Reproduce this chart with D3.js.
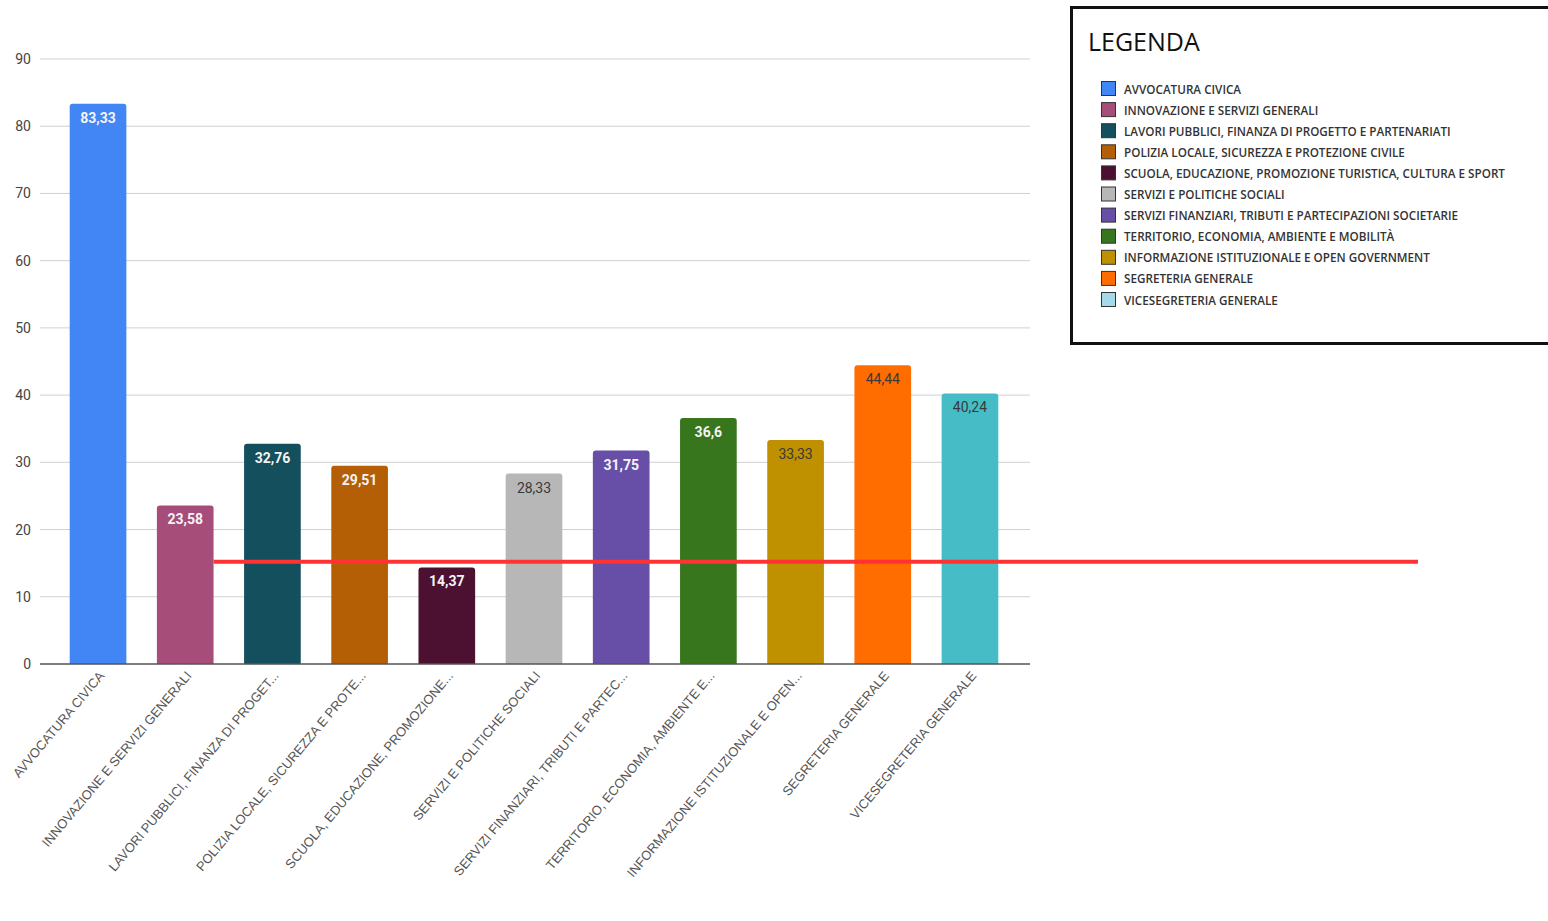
<!DOCTYPE html>
<html>
<head>
<meta charset="utf-8">
<script src="https://cdn.jsdelivr.net/npm/d3@7"></script>
<style>
  body { margin: 0; background: #fff; }
  svg { display: block; }
</style>
</head>
<body>
<div id="chart"></div>
<script>
// data
var categories = [
    "AVVOCATURA CIVICA",
    "INNOVAZIONE E SERVIZI GENERALI",
    "LAVORI PUBBLICI, FINANZA DI PROGETTO E PARTENARIATI",
    "POLIZIA LOCALE, SICUREZZA E PROTEZIONE CIVILE",
    "SCUOLA, EDUCAZIONE, PROMOZIONE TURISTICA, CULTURA E SPORT",
    "SERVIZI E POLITICHE SOCIALI",
    "SERVIZI FINANZIARI, TRIBUTI E PARTECIPAZIONI SOCIETARIE",
    "TERRITORIO, ECONOMIA, AMBIENTE E MOBILITÀ",
    "INFORMAZIONE ISTITUZIONALE E OPEN GOVERNMENT",
    "SEGRETERIA GENERALE",
    "VICESEGRETERIA GENERALE"
];
var axisLabels = [
    "AVVOCATURA CIVICA",
    "INNOVAZIONE E SERVIZI GENERALI",
    "LAVORI PUBBLICI, FINANZA DI PROGET...",
    "POLIZIA LOCALE, SICUREZZA E PROTE...",
    "SCUOLA, EDUCAZIONE, PROMOZIONE...",
    "SERVIZI E POLITICHE SOCIALI",
    "SERVIZI FINANZIARI, TRIBUTI E PARTEC...",
    "TERRITORIO, ECONOMIA, AMBIENTE E...",
    "INFORMAZIONE ISTITUZIONALE E OPEN...",
    "SEGRETERIA GENERALE",
    "VICESEGRETERIA GENERALE"
];
var values = [83.33, 23.58, 32.76, 29.51, 14.37, 28.33, 31.75, 36.6, 33.33, 44.44, 40.24];
var barColors = ["#4285f4", "#a64d79", "#134f5c", "#b45f06", "#4c1130", "#b7b7b7",
                 "#674ea7", "#38761d", "#bf9000", "#ff6d01", "#46bdc6"];
var legendColors = ["#4285f4", "#a64d79", "#134f5c", "#b45f06", "#4c1130", "#b7b7b7",
                    "#674ea7", "#38761d", "#bf9000", "#ff6d01", "#a4d9ec"];
var darkLabel = [false, false, false, false, false, true, false, false, true, true, true];
var yTicks = [0, 10, 20, 30, 40, 50, 60, 70, 80, 90];
var threshold = 15.2;

var width = 1548, height = 921;

var svg = d3.select("#chart").append("svg")
    .attr("width", width)
    .attr("height", height);

var x = d3.scaleBand()
    .domain(categories)
    .range([54, 1014])
    .paddingInner(0.35)
    .paddingOuter(0.18);

var y = d3.scaleLinear()
    .domain([0, 90])
    .range([664, 59]);

// gridlines
svg.append("g")
    .selectAll("line")
    .data(yTicks.filter(function(d) { return d > 0; }))
    .enter()
    .append("line")
    .attr("x1", 40).attr("x2", 1030)
    .attr("y1", function(d) { return y(d); })
    .attr("y2", function(d) { return y(d); })
    .style("stroke", "#d0d0d0")
    .style("stroke-width", 1);

// y labels
svg.append("g")
    .selectAll("text")
    .data(yTicks)
    .enter()
    .append("text")
    .attr("x", 31)
    .attr("y", function(d) { return y(d) + 5; })
    .attr("text-anchor", "end")
    .style("font-family", "Roboto, Arial, sans-serif")
    .style("font-size", "14px")
    .style("fill", "#444")
    .text(function(d) { return d; });

// bars with rounded tops
function barPath(i) {
    var x0 = x(categories[i]), w = x.bandwidth();
    var y0 = y(values[i]), y1 = y(0), r = 3;
    return "M" + x0 + "," + y1 +
        "V" + (y0 + r) +
        "Q" + x0 + "," + y0 + " " + (x0 + r) + "," + y0 +
        "H" + (x0 + w - r) +
        "Q" + (x0 + w) + "," + y0 + " " + (x0 + w) + "," + (y0 + r) +
        "V" + y1 + "Z";
}

svg.append("g")
    .selectAll("path")
    .data(values)
    .enter()
    .append("path")
    .attr("d", function(d, i) { return barPath(i); })
    .style("fill", function(d, i) { return barColors[i]; });

// value labels
svg.append("g")
    .selectAll("text")
    .data(values)
    .enter()
    .append("text")
    .attr("x", function(d, i) { return x(categories[i]) + x.bandwidth() / 2; })
    .attr("y", function(d) { return y(d) + 19; })
    .attr("text-anchor", "middle")
    .style("font-family", "Roboto, Arial, sans-serif")
    .style("font-size", "14px")
    .style("font-weight", function(d, i) { return darkLabel[i] ? "normal" : "bold"; })
    .style("fill", function(d, i) { return darkLabel[i] ? "#3a3a3a" : "#f4f4f4"; })
    .text(function(d) { return String(d).replace(".", ","); });

// baseline
svg.append("line")
    .attr("x1", 40).attr("x2", 1030)
    .attr("y1", y(0)).attr("y2", y(0))
    .style("stroke", "#555")
    .style("stroke-width", 1.5);

// x labels
svg.append("g")
    .selectAll("text")
    .data(axisLabels)
    .enter()
    .append("text")
    .attr("transform", function(d, i) {
        var cx = x(categories[i]) + x.bandwidth() / 2 + 7;
        return "translate(" + cx + ",676) rotate(-50)";
    })
    .attr("text-anchor", "end")
    .style("font-family", "Arial, 'Liberation Sans', sans-serif")
    .style("font-size", "13px")
    .style("fill", "#555")
    .text(function(d) { return d; });

// red threshold line
svg.append("line")
    .attr("x1", x(categories[1]) + x.bandwidth())
    .attr("x2", 1418)
    .attr("y1", y(threshold))
    .attr("y2", y(threshold))
    .style("stroke", "#ff3333")
    .style("stroke-width", 4);

// legend
var legend = svg.append("g");

legend.append("rect")
    .attr("x", 1071.5).attr("y", 7.5)
    .attr("width", 490).attr("height", 336)
    .style("fill", "#fff")
    .style("stroke", "#111")
    .style("stroke-width", 3);

legend.append("text")
    .attr("x", 1088).attr("y", 51)
    .style("font-family", "'Open Sans', sans-serif")
    .style("font-size", "25px")
    .style("fill", "#111")
    .text("LEGENDA");

var rowY = d3.scaleLinear().domain([0, 10]).range([89, 300]);

var items = legend.selectAll("g.item")
    .data(categories)
    .enter()
    .append("g")
    .attr("class", "item")
    .attr("transform", function(d, i) { return "translate(1101," + rowY(i) + ")"; });

items.append("rect")
    .attr("x", 0.5).attr("y", -7.5)
    .attr("width", 14).attr("height", 14)
    .style("fill", function(d, i) { return legendColors[i]; })
    .style("stroke", "#333")
    .style("stroke-width", 1);

items.append("text")
    .attr("x", 23).attr("y", 4.5)
    .style("font-family", "'Open Sans', sans-serif")
    .style("font-size", "11.7px")
    .style("font-weight", "600")
    .style("fill", "#333")
    .text(function(d) { return d; });
</script>
</body>
</html>
